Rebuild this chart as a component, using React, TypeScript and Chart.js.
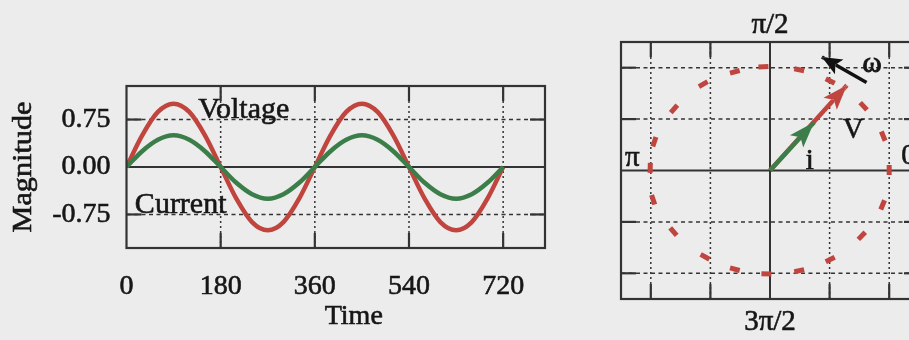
import React, { useEffect, useRef } from 'react';
import { Chart, registerables } from 'chart.js';

Chart.register(...registerables);

// ---------- Left chart data (time-domain waves) ----------
const TIME = [0, 30, 60, 90, 120, 150, 180, 210, 240, 270, 300, 330, 360, 390, 420, 450, 480, 510, 540, 570, 600, 630, 660, 690, 720];
const VOLTAGE = [0, 0.5, 0.87, 1, 0.87, 0.5, 0, -0.5, -0.87, -1, -0.87, -0.5, 0, 0.5, 0.87, 1, 0.87, 0.5, 0, -0.5, -0.87, -1, -0.87, -0.5, 0];
const CURRENT = [0, 0.25, 0.43, 0.5, 0.43, 0.25, 0, -0.25, -0.43, -0.5, -0.43, -0.25, 0, 0.25, 0.43, 0.5, 0.43, 0.25, 0, -0.25, -0.43, -0.5, -0.43, -0.25, 0];
const TIME_TICKS = [0, 180, 360, 540, 720];
const MAG_TICKS = [-0.75, 0, 0.75];
const WAVE_NAMES = ['Voltage', 'Current'];
const X_TITLE = 'Time';
const Y_TITLE = 'Magnitude';

// ---------- Right chart data (phasor diagram) ----------
const CIRCLE_X = [2.0, 1.9, 1.57, 1.01, 0.49, -0.11, -0.59, -1.12, -1.61, -1.94, -2.01, -1.96, -1.62, -1.09, -0.59, -0.06, 0.49, 1.01, 1.54, 1.89];
const CIRCLE_Y = [0.01, 0.67, 1.25, 1.74, 1.96, 2.02, 1.92, 1.68, 1.2, 0.56, 0.05, -0.57, -1.19, -1.68, -1.92, -2.01, -1.95, -1.73, -1.27, -0.67];
const V_PHASOR = [0, 0, 1.29, 1.66];
const I_PHASOR = [0, 0, 0.74, 0.94];
const OMEGA_ARROW = [1.62, 1.71, 0.87, 2.21];
const PHASOR_TICKS = [-2, -1, 0, 1, 2];
const ANGLE_NAMES = ['0', 'π/2', 'π', '3π/2'];
const PHASOR_NAMES = ['V', 'i', 'ω'];

const RED = '#c0453f';
const GREEN = '#3c7e49';
const INK = '#161616';
const GRID = '#333333';
const FONT = '"Liberation Serif", "Times New Roman", serif';

function seg(ctx: CanvasRenderingContext2D, x1: number, y1: number, x2: number, y2: number) {
  ctx.beginPath();
  ctx.moveTo(x1, y1);
  ctx.lineTo(x2, y2);
  ctx.stroke();
}

function heavyText(ctx: CanvasRenderingContext2D, s: string, x: number, y: number) {
  ctx.fillText(s, x, y);
  ctx.strokeText(s, x, y);
}

const wavePlugin = {
  id: 'waveFrame',
  beforeDatasetsDraw(chart: any) {
    const { ctx, chartArea: a } = chart;
    const x = chart.scales.x, y = chart.scales.y;
    ctx.save();
    ctx.strokeStyle = GRID;
    ctx.lineWidth = 1.5;
    ctx.setLineDash([2, 3]);
    TIME_TICKS.forEach((v, i) => {
      if (i === 0) return;
      const px = x.getPixelForValue(v);
      seg(ctx, px, a.top, px, a.bottom);
    });
    MAG_TICKS.forEach((v) => {
      const py = y.getPixelForValue(v);
      ctx.setLineDash(v === 0 ? [] : [4, 3.5]);
      ctx.lineWidth = v === 0 ? 2 : 1.5;
      seg(ctx, a.left, py, a.right, py);
    });
    ctx.restore();
  },
  afterDatasetsDraw(chart: any) {
    const { ctx, chartArea: a } = chart;
    const x = chart.scales.x, y = chart.scales.y;
    ctx.save();
    ctx.strokeStyle = GRID;
    ctx.lineWidth = 2.2;
    ctx.setLineDash([]);
    ctx.strokeRect(a.left, a.top, a.right - a.left, a.bottom - a.top);
    const tl = 15;
    TIME_TICKS.forEach((v, i) => {
      if (i === 0) return;
      const px = x.getPixelForValue(v);
      seg(ctx, px, a.top, px, a.top + tl);
      seg(ctx, px, a.bottom - tl, px, a.bottom);
    });
    MAG_TICKS.forEach((v) => {
      if (v === 0) return;
      const py = y.getPixelForValue(v);
      seg(ctx, a.left, py, a.left + tl, py);
      seg(ctx, a.right - tl, py, a.right, py);
    });
    ctx.fillStyle = INK;
    ctx.strokeStyle = INK;
    ctx.lineWidth = 0.6;
    ctx.textBaseline = 'alphabetic';
    ctx.textAlign = 'left';
    ctx.font = `30px ${FONT}`;
    heavyText(ctx, WAVE_NAMES[0], x.getPixelForValue(137), y.getPixelForValue(0.77));
    heavyText(ctx, WAVE_NAMES[1], x.getPixelForValue(16), y.getPixelForValue(-0.73));
    ctx.font = `28px ${FONT}`;
    ctx.textAlign = 'center';
    heavyText(ctx, X_TITLE, (a.left + a.right) / 2 + 18, a.bottom + 76);
    ctx.save();
    ctx.translate(31, (a.top + a.bottom) / 2);
    ctx.rotate(-Math.PI / 2);
    ctx.scale(1.08, 1);
    heavyText(ctx, Y_TITLE, 0, 0);
    ctx.restore();
    ctx.restore();
  },
};

function arrowGeom(meta: any, len: number, half: number) {
  const pts = meta.data;
  const a = pts[pts.length - 2], b = pts[pts.length - 1];
  const dx = b.x - a.x, dy = b.y - a.y;
  const d = Math.hypot(dx, dy) || 1;
  const ux = dx / d, uy = dy / d;
  const px = -uy, py = ux;
  const bx = b.x - ux * len, by = b.y - uy * len;
  return {
    tip: [b.x, b.y],
    left: [bx + px * half, by + py * half],
    notch: [b.x - ux * len * 0.78, b.y - uy * len * 0.78],
    right: [bx - px * half, by - py * half],
  };
}

function headPath(ctx: CanvasRenderingContext2D, g: any) {
  ctx.moveTo(g.tip[0], g.tip[1]);
  ctx.lineTo(g.left[0], g.left[1]);
  ctx.lineTo(g.notch[0], g.notch[1]);
  ctx.lineTo(g.right[0], g.right[1]);
  ctx.closePath();
}

const phasorPlugin = {
  id: 'phasorFrame',
  beforeDatasetsDraw(chart: any) {
    const { ctx, chartArea: a } = chart;
    const x = chart.scales.x, y = chart.scales.y;
    ctx.save();
    ctx.strokeStyle = GRID;
    PHASOR_TICKS.forEach((v) => {
      if (v === 0) return;
      ctx.lineWidth = 1.5;
      ctx.setLineDash([2, 3]);
      const px = x.getPixelForValue(v);
      seg(ctx, px, a.top, px, a.bottom);
      ctx.setLineDash([4, 3.5]);
      const py = y.getPixelForValue(v);
      seg(ctx, a.left, py, a.right, py);
    });
    ctx.setLineDash([]);
    ctx.lineWidth = 2;
    const x0 = x.getPixelForValue(0), y0 = y.getPixelForValue(0);
    seg(ctx, x0, a.top, x0, a.bottom);
    seg(ctx, a.left, y0, a.right, y0);
    ctx.restore();
  },
  beforeDatasetDraw(chart: any, args: any) {
    const ds = chart.data.datasets[args.index];
    if (!ds.arrowHead) return;
    const g = arrowGeom(args.meta, ds.arrowHead[0], ds.arrowHead[1]);
    const ctx = chart.ctx;
    ctx.save();
    ctx.beginPath();
    ctx.rect(0, 0, chart.width, chart.height);
    headPath(ctx, g);
    ctx.clip('evenodd');
  },
  afterDatasetDraw(chart: any, args: any) {
    const ds = chart.data.datasets[args.index];
    if (!ds.arrowHead) return;
    const ctx = chart.ctx;
    ctx.restore();
    const g = arrowGeom(args.meta, ds.arrowHead[0], ds.arrowHead[1]);
    ctx.save();
    ctx.fillStyle = ds.borderColor;
    ctx.beginPath();
    headPath(ctx, g);
    ctx.fill();
    ctx.restore();
  },
  afterDatasetsDraw(chart: any) {
    const { ctx, chartArea: a } = chart;
    const x = chart.scales.x, y = chart.scales.y;
    ctx.save();
    ctx.strokeStyle = GRID;
    ctx.lineWidth = 2.2;
    ctx.setLineDash([]);
    ctx.strokeRect(a.left, a.top, a.right - a.left, a.bottom - a.top);
    const tl = 15;
    PHASOR_TICKS.forEach((v) => {
      if (v === 0) return;
      const px = x.getPixelForValue(v);
      seg(ctx, px, a.top, px, a.top + tl);
      seg(ctx, px, a.bottom - tl, px, a.bottom);
      const py = y.getPixelForValue(v);
      seg(ctx, a.left, py, a.left + tl, py);
      seg(ctx, a.right - tl, py, a.right, py);
    });
    const x0 = x.getPixelForValue(0), y0 = y.getPixelForValue(0);
    ctx.fillStyle = INK;
    ctx.strokeStyle = INK;
    ctx.lineWidth = 0.6;
    ctx.font = `29px ${FONT}`;
    ctx.textBaseline = 'alphabetic';
    ctx.textAlign = 'center';
    heavyText(ctx, ANGLE_NAMES[1], x0, a.top - 9);
    heavyText(ctx, ANGLE_NAMES[3], x0, a.bottom + 31);
    ctx.textAlign = 'left';
    heavyText(ctx, ANGLE_NAMES[2], a.left + 4, y0 - 5);
    heavyText(ctx, ANGLE_NAMES[0], x.getPixelForValue(2) + 12, y0 - 7);
    ctx.font = `29px ${FONT}`;
    heavyText(ctx, PHASOR_NAMES[0], x.getPixelForValue(1.22), y.getPixelForValue(0.63));
    heavyText(ctx, PHASOR_NAMES[1], x.getPixelForValue(0.6), y0 - 2);
    ctx.lineWidth = 1;
    heavyText(ctx, PHASOR_NAMES[2], x.getPixelForValue(1.55), y.getPixelForValue(1.92));
    ctx.restore();
  },
};

export default function App() {
  const leftRef = useRef<HTMLCanvasElement | null>(null);
  const rightRef = useRef<HTMLCanvasElement | null>(null);

  useEffect(() => {
    const lc = leftRef.current!, rc = rightRef.current!;
    const tickFont = { family: FONT, size: 28 };
    const left = new Chart(lc, {
      type: 'line',
      data: {
        datasets: [
          {
            label: WAVE_NAMES[1],
            data: TIME.map((t, i) => ({ x: t, y: CURRENT[i] })),
            borderColor: GREEN,
            borderWidth: 4.5,
            pointRadius: 0,
            cubicInterpolationMode: 'monotone',
            order: 0,
          },
          {
            label: WAVE_NAMES[0],
            data: TIME.map((t, i) => ({ x: t, y: VOLTAGE[i] })),
            borderColor: RED,
            borderWidth: 4.5,
            pointRadius: 0,
            cubicInterpolationMode: 'monotone',
            order: 1,
          },
        ],
      },
      options: {
        responsive: false,
        animation: false,
        events: [],
        layout: { padding: { left: 0, top: 86, right: 55, bottom: 0 } },
        plugins: { legend: { display: false }, tooltip: { enabled: false } },
        scales: {
          x: {
            type: 'linear',
            min: 0,
            max: 800,
            grid: { display: false, drawTicks: false },
            border: { display: false },
            afterBuildTicks: (s: any) => { s.ticks = TIME_TICKS.map((v) => ({ value: v })); },
            afterFit: (s: any) => { s.height = 92; },
            ticks: {
              color: INK, font: tickFont, padding: 22, maxRotation: 0, autoSkip: false,
              textStrokeColor: INK, textStrokeWidth: 0.6,
            } as any,
          },
          y: {
            type: 'linear',
            min: -1.28,
            max: 1.28,
            grid: { display: false, drawTicks: false },
            border: { display: false },
            afterBuildTicks: (s: any) => { s.ticks = MAG_TICKS.map((v) => ({ value: v })); },
            afterFit: (s: any) => { s.width = 126.5; },
            ticks: {
              color: INK,
              font: tickFont,
              padding: 16,
              autoSkip: false,
              textStrokeColor: INK,
              textStrokeWidth: 0.6,
              callback: (v: any) => Number(v).toFixed(2),
            } as any,
          },
        },
      },
      plugins: [wavePlugin],
    });

    const rotation = (c: any) => {
      const ch = c.chart;
      const xs = ch.scales.x, ys = ch.scales.y;
      const raw = c.raw;
      if (!raw || !xs || !ys) return 0;
      const sx = xs.getPixelForValue(1) - xs.getPixelForValue(0);
      const sy = ys.getPixelForValue(0) - ys.getPixelForValue(1);
      return (Math.atan2(-raw.x * sy, -raw.y * sx) * 180) / Math.PI;
    };

    const right = new Chart(rc, {
      type: 'line',
      data: {
        datasets: [
          {
            label: PHASOR_NAMES[2],
            data: [{ x: OMEGA_ARROW[0], y: OMEGA_ARROW[1] }, { x: OMEGA_ARROW[2], y: OMEGA_ARROW[3] }],
            borderColor: '#111111',
            borderWidth: 3.5,
            pointRadius: 0,
            order: 0,
            arrowHead: [20, 8.5],
          } as any,
          {
            label: PHASOR_NAMES[1],
            data: [{ x: I_PHASOR[0], y: I_PHASOR[1] }, { x: I_PHASOR[2], y: I_PHASOR[3] }],
            borderColor: GREEN,
            borderWidth: 4.5,
            pointRadius: 0,
            order: 1,
            arrowHead: [26, 9],
          } as any,
          {
            label: PHASOR_NAMES[0],
            data: [{ x: V_PHASOR[0], y: V_PHASOR[1] }, { x: V_PHASOR[2], y: V_PHASOR[3] }],
            borderColor: RED,
            borderWidth: 4.5,
            pointRadius: 0,
            order: 2,
            arrowHead: [25, 9],
          } as any,
          {
            label: 'circle',
            data: CIRCLE_X.map((v, i) => ({ x: v, y: CIRCLE_Y[i] })),
            showLine: false,
            pointStyle: 'line',
            pointRadius: 5,
            pointBorderWidth: 5,
            pointBorderColor: RED,
            pointBackgroundColor: RED,
            pointRotation: rotation,
            order: 3,
          } as any,
        ],
      },
      options: {
        responsive: false,
        animation: false,
        events: [],
        layout: { padding: { left: 31, top: 42, right: 11, bottom: 41 } },
        plugins: { legend: { display: false }, tooltip: { enabled: false } },
        scales: {
          x: { type: 'linear', min: -2.5, max: 2.5, display: false },
          y: { type: 'linear', min: -2.5, max: 2.5, display: false },
        },
      },
      plugins: [phasorPlugin],
    });

    return () => {
      left.destroy();
      right.destroy();
    };
  }, []);

  return (
    <div
      style={{
        position: 'fixed',
        left: 0,
        top: 0,
        width: 909,
        height: 340,
        overflow: 'hidden',
        background: '#ececec',
      }}
    >
      <canvas
        ref={leftRef}
        width={600}
        height={340}
        style={{ position: 'absolute', left: 0, top: 0, width: 600, height: 340 }}
      />
      <canvas
        ref={rightRef}
        width={340}
        height={340}
        style={{ position: 'absolute', left: 590, top: 0, width: 340, height: 340 }}
      />
    </div>
  );
}
